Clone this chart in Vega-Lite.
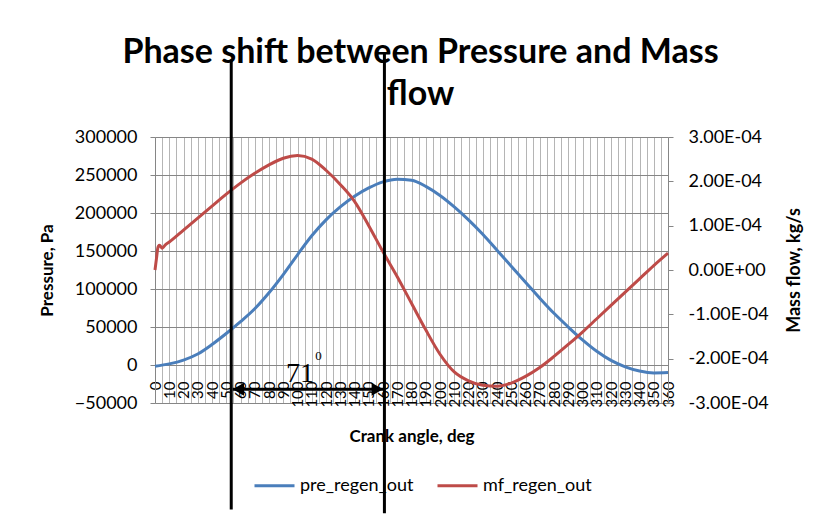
{
  "$schema": "https://vega.github.io/schema/vega-lite/v6.json",
  "width": 513,
  "height": 266,
  "autosize": {"type": "none"},
  "padding": {"left": 155, "top": 137, "right": 154, "bottom": 117},
  "background": "white",
  "config": {
    "font": "Lato",
    "view": {"stroke": null},
    "axisX": {
      "labelAngle": 270,
      "labelFontSize": 15,
      "labelPadding": 16,
      "labelColor": "black",
      "labelOverlap": false,
      "labelFlush": false,
      "labelBound": false,
      "ticks": false,
      "domainColor": "#868686",
      "grid": true,
      "gridColor": "#b5b5b5",
      "titleFontSize": 17,
      "titleFontWeight": "bold",
      "titleColor": "black",
      "titlePadding": 21
    }
  },
  "title": {
    "text": ["Phase shift between Pressure and Mass", "flow"],
    "font": "Lato",
    "fontSize": 34,
    "fontWeight": "bold",
    "lineHeight": 42,
    "anchor": "middle",
    "dx": 9,
    "offset": -62,
    "color": "black"
  },
  "datasets": {
    "pre": [
      {"deg": 0, "value": -1500, "series": "pre_regen_out"},
      {"deg": 10, "value": 1500, "series": "pre_regen_out"},
      {"deg": 20, "value": 6500, "series": "pre_regen_out"},
      {"deg": 30, "value": 14500, "series": "pre_regen_out"},
      {"deg": 40, "value": 27000, "series": "pre_regen_out"},
      {"deg": 50, "value": 41500, "series": "pre_regen_out"},
      {"deg": 60, "value": 57000, "series": "pre_regen_out"},
      {"deg": 70, "value": 74000, "series": "pre_regen_out"},
      {"deg": 80, "value": 95000, "series": "pre_regen_out"},
      {"deg": 90, "value": 119000, "series": "pre_regen_out"},
      {"deg": 100, "value": 145000, "series": "pre_regen_out"},
      {"deg": 110, "value": 170000, "series": "pre_regen_out"},
      {"deg": 120, "value": 191000, "series": "pre_regen_out"},
      {"deg": 130, "value": 208000, "series": "pre_regen_out"},
      {"deg": 140, "value": 222000, "series": "pre_regen_out"},
      {"deg": 150, "value": 233000, "series": "pre_regen_out"},
      {"deg": 160, "value": 241000, "series": "pre_regen_out"},
      {"deg": 170, "value": 244500, "series": "pre_regen_out"},
      {"deg": 180, "value": 243000, "series": "pre_regen_out"},
      {"deg": 190, "value": 235000, "series": "pre_regen_out"},
      {"deg": 200, "value": 223000, "series": "pre_regen_out"},
      {"deg": 210, "value": 208000, "series": "pre_regen_out"},
      {"deg": 220, "value": 191000, "series": "pre_regen_out"},
      {"deg": 230, "value": 172000, "series": "pre_regen_out"},
      {"deg": 240, "value": 151000, "series": "pre_regen_out"},
      {"deg": 250, "value": 130000, "series": "pre_regen_out"},
      {"deg": 260, "value": 109000, "series": "pre_regen_out"},
      {"deg": 270, "value": 88000, "series": "pre_regen_out"},
      {"deg": 280, "value": 68000, "series": "pre_regen_out"},
      {"deg": 290, "value": 50000, "series": "pre_regen_out"},
      {"deg": 300, "value": 33000, "series": "pre_regen_out"},
      {"deg": 310, "value": 18000, "series": "pre_regen_out"},
      {"deg": 320, "value": 6000, "series": "pre_regen_out"},
      {"deg": 330, "value": -2500, "series": "pre_regen_out"},
      {"deg": 340, "value": -8000, "series": "pre_regen_out"},
      {"deg": 350, "value": -10500, "series": "pre_regen_out"},
      {"deg": 360, "value": -10000, "series": "pre_regen_out"}
    ],
    "mf": [
      {"deg": 0, "value": 0, "series": "mf_regen_out"},
      {"deg": 1, "value": 0.000025, "series": "mf_regen_out"},
      {"deg": 2, "value": 0.00005, "series": "mf_regen_out"},
      {"deg": 3, "value": 0.000056, "series": "mf_regen_out"},
      {"deg": 4, "value": 0.000053, "series": "mf_regen_out"},
      {"deg": 5, "value": 0.000049, "series": "mf_regen_out"},
      {"deg": 6, "value": 0.000052, "series": "mf_regen_out"},
      {"deg": 7, "value": 0.000056, "series": "mf_regen_out"},
      {"deg": 10, "value": 0.000063, "series": "mf_regen_out"},
      {"deg": 20, "value": 0.00009, "series": "mf_regen_out"},
      {"deg": 30, "value": 0.000117, "series": "mf_regen_out"},
      {"deg": 40, "value": 0.000144, "series": "mf_regen_out"},
      {"deg": 50, "value": 0.000171, "series": "mf_regen_out"},
      {"deg": 60, "value": 0.000196, "series": "mf_regen_out"},
      {"deg": 70, "value": 0.000218, "series": "mf_regen_out"},
      {"deg": 80, "value": 0.000237, "series": "mf_regen_out"},
      {"deg": 90, "value": 0.000252, "series": "mf_regen_out"},
      {"deg": 100, "value": 0.000258, "series": "mf_regen_out"},
      {"deg": 110, "value": 0.00025, "series": "mf_regen_out"},
      {"deg": 120, "value": 0.000225, "series": "mf_regen_out"},
      {"deg": 130, "value": 0.000193, "series": "mf_regen_out"},
      {"deg": 140, "value": 0.000155, "series": "mf_regen_out"},
      {"deg": 150, "value": 0.0001, "series": "mf_regen_out"},
      {"deg": 160, "value": 0.000041, "series": "mf_regen_out"},
      {"deg": 170, "value": -0.000015, "series": "mf_regen_out"},
      {"deg": 180, "value": -0.000075, "series": "mf_regen_out"},
      {"deg": 190, "value": -0.000135, "series": "mf_regen_out"},
      {"deg": 200, "value": -0.00019, "series": "mf_regen_out"},
      {"deg": 210, "value": -0.00023, "series": "mf_regen_out"},
      {"deg": 220, "value": -0.00025, "series": "mf_regen_out"},
      {"deg": 230, "value": -0.00026, "series": "mf_regen_out"},
      {"deg": 240, "value": -0.000262, "series": "mf_regen_out"},
      {"deg": 250, "value": -0.000255, "series": "mf_regen_out"},
      {"deg": 260, "value": -0.00024, "series": "mf_regen_out"},
      {"deg": 270, "value": -0.00022, "series": "mf_regen_out"},
      {"deg": 280, "value": -0.000195, "series": "mf_regen_out"},
      {"deg": 290, "value": -0.000168, "series": "mf_regen_out"},
      {"deg": 300, "value": -0.00014, "series": "mf_regen_out"},
      {"deg": 310, "value": -0.00011, "series": "mf_regen_out"},
      {"deg": 320, "value": -0.00008, "series": "mf_regen_out"},
      {"deg": 330, "value": -0.00005, "series": "mf_regen_out"},
      {"deg": 340, "value": -0.00002, "series": "mf_regen_out"},
      {"deg": 350, "value": 0.00001, "series": "mf_regen_out"},
      {"deg": 360, "value": 0.000038, "series": "mf_regen_out"}
    ],
    "vlines": [
      {"deg": 53.5, "top": 402000, "bottom": -190000},
      {"deg": 161, "top": 412000, "bottom": -195000}
    ],
    "arrow": [
      {"deg": 54.5, "deg2": 160, "p": -32000}
    ],
    "heads": [
      {"deg": 58.5, "p": -32000, "dir": "left"},
      {"deg": 156, "p": -32000, "dir": "right"}
    ],
    "lblMain": [
      {"deg": 101.8, "p": -22400, "text": "71"}
    ],
    "lblSup": [
      {"deg": 114.7, "p": 6600, "text": "0"}
    ]
  },
  "layer": [
    {
      "data": {"name": "pre"},
      "mark": {"type": "line", "strokeWidth": 3, "interpolate": "monotone"},
      "encoding": {
        "x": {
          "field": "deg",
          "type": "quantitative",
          "scale": {"domain": [0, 360], "nice": false, "zero": false},
          "axis": {
            "title": "Crank angle, deg",
            "values": [0,5,10,15,20,25,30,35,40,45,50,55,60,65,70,75,80,85,90,95,100,105,110,115,120,125,130,135,140,145,150,155,160,165,170,175,180,185,190,195,200,205,210,215,220,225,230,235,240,245,250,255,260,265,270,275,280,285,290,295,300,305,310,315,320,325,330,335,340,345,350,355,360],
            "labelExpr": "datum.value % 10 == 0 ? datum.label : ''",
            "offset": -38
          }
        },
        "y": {
          "field": "value",
          "type": "quantitative",
          "scale": {"domain": [-50000, 300000], "nice": false, "zero": false},
          "axis": {
            "title": "Pressure, Pa",
            "values": [-50000, 0, 50000, 100000, 150000, 200000, 250000, 300000],
            "format": "d",
            "labelFontSize": 18,
            "labelColor": "black",
            "labelPadding": 13,
            "tickSize": 5,
            "tickColor": "#868686",
            "domainColor": "#868686",
            "grid": true,
            "gridColor": "#868686",
            "titleFontSize": 17,
            "titleFontWeight": "bold",
            "titleColor": "black",
            "titlePadding": 18
          }
        },
        "color": {
          "field": "series",
          "type": "nominal",
          "scale": {"domain": ["pre_regen_out", "mf_regen_out"], "range": ["#4A7EBB", "#BE4B48"]},
          "legend": {
            "orient": "none",
            "legendX": 98,
            "legendY": 327,
            "direction": "horizontal",
            "title": null,
            "symbolType": "stroke",
            "symbolSize": 1600,
            "symbolStrokeWidth": 3,
            "labelFontSize": 18,
            "labelColor": "black",
            "labelOffset": 4,
            "columnPadding": 17
          }
        }
      }
    },
    {
      "data": {"name": "mf"},
      "mark": {"type": "line", "strokeWidth": 3, "interpolate": "monotone"},
      "encoding": {
        "x": {
          "field": "deg",
          "type": "quantitative",
          "axis": {
            "title": "Crank angle, deg",
            "values": [0,5,10,15,20,25,30,35,40,45,50,55,60,65,70,75,80,85,90,95,100,105,110,115,120,125,130,135,140,145,150,155,160,165,170,175,180,185,190,195,200,205,210,215,220,225,230,235,240,245,250,255,260,265,270,275,280,285,290,295,300,305,310,315,320,325,330,335,340,345,350,355,360],
            "labelExpr": "datum.value % 10 == 0 ? datum.label : ''",
            "offset": -38
          }
        },
        "y": {
          "field": "value",
          "type": "quantitative",
          "scale": {"domain": [-0.0003, 0.0003], "nice": false, "zero": false},
          "axis": {
            "orient": "right",
            "title": "Mass flow, kg/s",
            "titleAngle": 270,
            "values": [-0.0003, -0.0002, -0.0001, 0, 0.0001, 0.0002, 0.0003],
            "labelExpr": "datum.value == 0 ? '0.00E+00' : (datum.value < 0 ? '-' : '') + format(abs(datum.value) * 10000, '.2f') + 'E-04'",
            "labelFontSize": 18,
            "labelColor": "black",
            "labelPadding": 15,
            "tickSize": 5,
            "tickColor": "#868686",
            "domainColor": "#868686",
            "grid": false,
            "titleFontSize": 18,
            "titleFontWeight": "bold",
            "titleColor": "black",
            "titlePadding": 35
          }
        },
        "color": {"field": "series", "type": "nominal"}
      }
    },
    {
      "layer": [
        {
          "data": {"name": "vlines"},
          "mark": {"type": "rule", "color": "black", "strokeWidth": 3, "clip": false},
          "encoding": {
            "x": {"field": "deg", "type": "quantitative", "axis": {"title": "Crank angle, deg", "values": [0,5,10,15,20,25,30,35,40,45,50,55,60,65,70,75,80,85,90,95,100,105,110,115,120,125,130,135,140,145,150,155,160,165,170,175,180,185,190,195,200,205,210,215,220,225,230,235,240,245,250,255,260,265,270,275,280,285,290,295,300,305,310,315,320,325,330,335,340,345,350,355,360], "labelExpr": "datum.value % 10 == 0 ? datum.label : ''", "offset": -38}},
            "y": {"field": "top", "type": "quantitative", "scale": {"domain": [-50000, 300000], "nice": false, "zero": false}, "axis": null},
            "y2": {"field": "bottom"}
          }
        },
        {
          "data": {"name": "arrow"},
          "mark": {"type": "rule", "color": "black", "strokeWidth": 3, "clip": false},
          "encoding": {
            "x": {"field": "deg", "type": "quantitative", "axis": {"title": "Crank angle, deg", "values": [0,5,10,15,20,25,30,35,40,45,50,55,60,65,70,75,80,85,90,95,100,105,110,115,120,125,130,135,140,145,150,155,160,165,170,175,180,185,190,195,200,205,210,215,220,225,230,235,240,245,250,255,260,265,270,275,280,285,290,295,300,305,310,315,320,325,330,335,340,345,350,355,360], "labelExpr": "datum.value % 10 == 0 ? datum.label : ''", "offset": -38}},
            "x2": {"field": "deg2"},
            "y": {"field": "p", "type": "quantitative", "scale": {"domain": [-50000, 300000], "nice": false, "zero": false}, "axis": null}
          }
        },
        {
          "data": {"name": "heads"},
          "mark": {"type": "point", "filled": true, "color": "black", "opacity": 1, "size": 170, "clip": false},
          "encoding": {
            "x": {"field": "deg", "type": "quantitative", "axis": {"title": "Crank angle, deg", "values": [0,5,10,15,20,25,30,35,40,45,50,55,60,65,70,75,80,85,90,95,100,105,110,115,120,125,130,135,140,145,150,155,160,165,170,175,180,185,190,195,200,205,210,215,220,225,230,235,240,245,250,255,260,265,270,275,280,285,290,295,300,305,310,315,320,325,330,335,340,345,350,355,360], "labelExpr": "datum.value % 10 == 0 ? datum.label : ''", "offset": -38}},
            "y": {"field": "p", "type": "quantitative", "scale": {"domain": [-50000, 300000], "nice": false, "zero": false}, "axis": null},
            "shape": {"field": "dir", "type": "nominal", "scale": {"domain": ["left", "right"], "range": ["triangle-left", "triangle-right"]}, "legend": null}
          }
        },
        {
          "data": {"name": "lblMain"},
          "mark": {"type": "text", "font": "Liberation Serif", "fontSize": 28, "color": "black", "align": "center", "baseline": "alphabetic", "clip": false},
          "encoding": {
            "x": {"field": "deg", "type": "quantitative", "axis": {"title": "Crank angle, deg", "values": [0,5,10,15,20,25,30,35,40,45,50,55,60,65,70,75,80,85,90,95,100,105,110,115,120,125,130,135,140,145,150,155,160,165,170,175,180,185,190,195,200,205,210,215,220,225,230,235,240,245,250,255,260,265,270,275,280,285,290,295,300,305,310,315,320,325,330,335,340,345,350,355,360], "labelExpr": "datum.value % 10 == 0 ? datum.label : ''", "offset": -38}},
            "y": {"field": "p", "type": "quantitative", "scale": {"domain": [-50000, 300000], "nice": false, "zero": false}, "axis": null},
            "text": {"field": "text"}
          }
        },
        {
          "data": {"name": "lblSup"},
          "mark": {"type": "text", "font": "Liberation Serif", "fontSize": 13, "color": "black", "align": "center", "baseline": "alphabetic", "clip": false},
          "encoding": {
            "x": {"field": "deg", "type": "quantitative", "axis": {"title": "Crank angle, deg", "values": [0,5,10,15,20,25,30,35,40,45,50,55,60,65,70,75,80,85,90,95,100,105,110,115,120,125,130,135,140,145,150,155,160,165,170,175,180,185,190,195,200,205,210,215,220,225,230,235,240,245,250,255,260,265,270,275,280,285,290,295,300,305,310,315,320,325,330,335,340,345,350,355,360], "labelExpr": "datum.value % 10 == 0 ? datum.label : ''", "offset": -38}},
            "y": {"field": "p", "type": "quantitative", "scale": {"domain": [-50000, 300000], "nice": false, "zero": false}, "axis": null},
            "text": {"field": "text"}
          }
        }
      ]
    }
  ],
  "resolve": {"scale": {"y": "independent"}}
}
